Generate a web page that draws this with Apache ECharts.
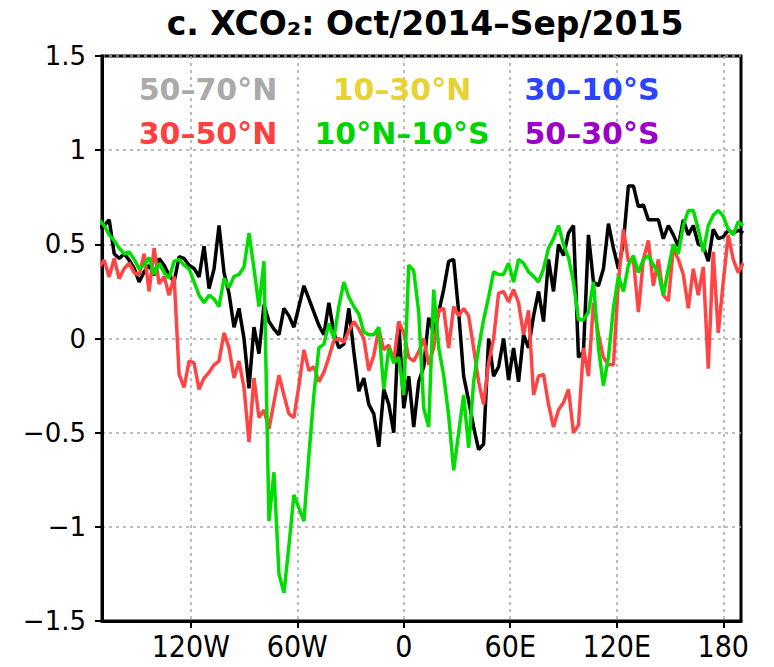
<!DOCTYPE html>
<html><head><meta charset="utf-8">
<script src="https://cdn.jsdelivr.net/npm/echarts@6/dist/echarts.min.js"></script>
<style>html,body{margin:0;padding:0;background:#fff}#c{width:774px;height:667px}</style>
</head><body><div id="c"></div>
<script>
// longitude grid: 2.8125-degree model grid, index -61 .. 68
const lonStep = 2.8125;
const lonFirstIndex = -61;
const lonCount = 130;

// black line
const blackValues = [
  0.59, 0.60, 0.63, 0.45, 0.425, 0.45, 0.416, 0.372, 0.30, 0.354,
  0.389, 0.336, 0.425, 0.389, 0.336, 0.30, 0.434, 0.425, 0.389, 0.372,
  0.327, 0.49, 0.265, 0.37, 0.60, 0.35, 0.24, 0.06, 0.16, 0.00,
  -0.265, 0.06, -0.08, 0.18, 0.09, 0.05, 0.02, 0.16, 0.12, 0.06,
  0.17, 0.28, 0.21, 0.14, 0.07, 0.02, 0.19, 0.03, -0.05, -0.03,
  0.16, -0.07, -0.28, -0.21, -0.35, -0.40, -0.575, -0.27, -0.35, -0.50,
  0.09, -0.37, -0.20, -0.47, -0.23, -0.15, 0.11, 0.03, 0.14, 0.26,
  0.41, 0.42, 0.14, -0.20, -0.33, -0.47, -0.59, -0.56, 0.00, -0.20,
  -0.15, 0.00, -0.22, -0.05, -0.23, 0.02, -0.05, 0.12, 0.25, 0.09,
  0.42, 0.25, 0.50, 0.44, 0.56, 0.60, -0.10, -0.07, 0.55, 0.30,
  0.28, 0.37, 0.61, 0.48, 0.37, 0.51, 0.81, 0.81, 0.70, 0.71,
  0.63, 0.63, 0.63, 0.53, 0.60, 0.55, 0.49, 0.63, 0.55, 0.60,
  0.50, 0.49, 0.41, 0.58, 0.53, 0.54, 0.575, 0.56, 0.575, 0.56
];
// 30-50N (red)
const redValues = [
  0.38, 0.416, 0.327, 0.425, 0.318, 0.372, 0.40, 0.35, 0.336, 0.45,
  0.25, 0.48, 0.29, 0.33, 0.23, 0.33, -0.19, -0.26, -0.12, -0.13,
  -0.27, -0.21, -0.18, -0.14, -0.12, 0.03, -0.05, -0.21, -0.12, -0.26,
  -0.55, -0.21, -0.42, -0.38, -0.48, -0.34, -0.195, -0.30, -0.40, -0.42,
  -0.25, -0.06, -0.17, -0.15, -0.23, -0.18, -0.10, -0.01, 0.0, -0.02,
  0.04, 0.09, 0.05, 0.0, -0.17, -0.09, 0.05, -0.06, -0.035, -0.12,
  0.09, 0.03, -0.10, -0.12, -0.07, 0.0, -0.14, -0.05, 0.15, 0.16,
  -0.05, 0.17, 0.12, 0.16, 0.12, -0.05, -0.23, -0.35, -0.13, 0.0,
  0.24, 0.25, 0.195, 0.26, 0.19, 0.02, 0.15, -0.30, -0.20, -0.19,
  -0.35, -0.47, -0.38, -0.34, -0.27, -0.50, -0.46, -0.05, -0.20, 0.19,
  0.02, -0.10, -0.14, -0.14, 0.30, 0.58, 0.41, 0.42, 0.14, 0.42,
  0.52, 0.28, 0.42, 0.23, 0.20, 0.48, 0.42, 0.34, 0.16, 0.37,
  0.23, 0.38, -0.16, 0.46, 0.03, 0.30, 0.55, 0.42, 0.35, 0.40
];
// 10N-10S (green)
const greenValues = [
  0.63, 0.60, 0.55, 0.52, 0.48, 0.45, 0.46, 0.42, 0.37, 0.39,
  0.43, 0.34, 0.40, 0.35, 0.32, 0.41, 0.42, 0.39, 0.37, 0.30,
  0.23, 0.19, 0.23, 0.21, 0.17, 0.32, 0.27, 0.33, 0.34, 0.38,
  0.56, 0.37, 0.17, 0.41, -0.97, -0.71, -1.25, -1.35, -1.10, -0.83,
  -0.90, -0.97, -0.62, -0.30, -0.05, -0.03, 0.08, 0.0, 0.17, 0.30,
  0.22, 0.17, 0.13, 0.035, 0.02, 0.02, 0.06, -0.27, -0.05, -0.13,
  -0.10, -0.30, 0.39, 0.36, 0.14, -0.37, -0.47, 0.26, -0.05, -0.195,
  -0.41, -0.70, -0.50, -0.30, -0.58, -0.23, -0.05, 0.10, 0.22, 0.354,
  0.34, 0.34, 0.40, 0.30, 0.42, 0.40, 0.354, 0.33, 0.30, 0.37,
  0.48, 0.53, 0.60, 0.50, 0.43, 0.30, 0.10, 0.10, 0.14, 0.30,
  -0.05, -0.25, -0.10, 0.16, 0.33, 0.25, 0.39, 0.44, 0.35, 0.42,
  0.44, 0.39, 0.35, 0.23, 0.37, 0.50, 0.45, 0.60, 0.68, 0.68,
  0.58, 0.46, 0.60, 0.655, 0.68, 0.65, 0.58, 0.55, 0.62, 0.60
];

const xTickValues = [-120, -60, 0, 60, 120, 180];
const xTickLabels = ['120W', '60W', '0', '60E', '120E', '180'];
const titleText = 'c. XCO₂: Oct/2014–Sep/2015';
const legendRow1 = ['50–70°N', '10–30°N', '30–10°S'];
const legendRow2 = ['30–50°N', '10°N–10°S', '50–30°S'];
const legendColors1 = ['#aaaaaa', '#e6d232', '#2a44ff'];
const legendColors2 = ['#ff4040', '#00d400', '#9a00c8'];

const lon = [];
for (let i = 0; i < lonCount; i++) lon.push((lonFirstIndex + i) * lonStep);
const pairs = vals => lon.map((x, i) => [x, vals[i]]);

const chart = echarts.init(document.getElementById('c'), null, {renderer: 'svg'});

const legendX = [208, 402, 592];
const legendY = [89, 133];
const graphics = [{
  type: 'text', x: 425, y: 23,
  style: {text: titleText, fontSize: 33, fontWeight: 'bold', fontFamily: 'DejaVu Sans', fill: '#000', align: 'center', verticalAlign: 'middle'}
}];
[legendRow1, legendRow2].forEach((row, r) => {
  const cols = r === 0 ? legendColors1 : legendColors2;
  row.forEach((t, c) => {
    graphics.push({type: 'text', x: legendX[c], y: legendY[r], z: 100,
      style: {text: t, fontSize: 30, fontWeight: 'bold', fontFamily: 'DejaVu Sans', fill: cols[c], align: 'center', verticalAlign: 'middle'}});
  });
});

const splitStyle = {color: '#a8a8a8', width: 1.5, type: [3, 4]};
chart.setOption({
  animation: false,
  backgroundColor: '#fff',
  grid: {left: 102, right: 33, top: 56, bottom: 46, show: true, borderColor: '#000', borderWidth: 3, backgroundColor: 'transparent'},
  xAxis: {
    type: 'value', min: -170, max: 190,
    axisLine: {show: true, onZero: false, lineStyle: {color: '#000', width: 3}},
    axisTick: {show: true, customValues: xTickValues, length: 7, lineStyle: {color: '#000', width: 2}},
    axisLabel: {customValues: xTickValues, margin: 10, fontSize: 30,
      fontFamily: "'Liberation Sans Narrow', 'DejaVu Sans Condensed', 'Liberation Sans', sans-serif",
      color: '#000', formatter: v => xTickLabels[xTickValues.indexOf(v)]},
    splitLine: {show: true, lineStyle: splitStyle}
  },
  yAxis: {
    type: 'value', min: -1.5, max: 1.5, interval: 0.5,
    axisLine: {show: true, onZero: false, lineStyle: {color: '#000', width: 3}},
    axisTick: {show: true, length: 7, lineStyle: {color: '#000', width: 2}},
    axisLabel: {margin: 16, fontSize: 26, fontFamily: 'DejaVu Sans', color: '#000',
      formatter: v => (v < 0 ? '−' : '') + String(Math.abs(v))},
    splitLine: {show: true, lineStyle: splitStyle}
  },
  series: [
    {type: 'line', data: pairs(blackValues), showSymbol: false, lineStyle: {color: '#000000', width: 3.5}, itemStyle: {color: '#000'}},
    {type: 'line', data: pairs(redValues), showSymbol: false, lineStyle: {color: '#ff4444', width: 3.5}, itemStyle: {color: '#ff4444'}},
    {type: 'line', data: pairs(greenValues), showSymbol: false, lineStyle: {color: '#00dd00', width: 3.5}, itemStyle: {color: '#00dd00'}}
  ],
  graphic: graphics
});
</script></body></html>
